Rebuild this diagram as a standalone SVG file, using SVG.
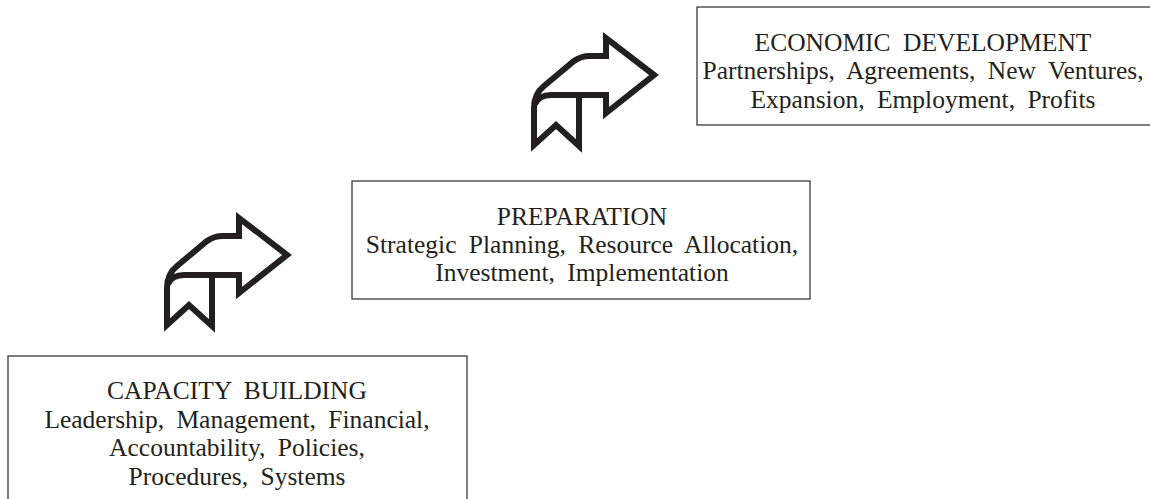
<svg xmlns="http://www.w3.org/2000/svg" xmlns:xlink="http://www.w3.org/1999/xlink" width="1150" height="499" viewBox="0 0 1150 499">
<style>
.box{fill:#fff;stroke:#3a3a3a;stroke-width:1.3}
.t{font-family:"Liberation Serif","Times New Roman",serif;font-size:25.5px;word-spacing:6px;fill:#231f20;text-anchor:middle}
.arr{fill:#fff;stroke:#231f20;stroke-width:6;stroke-linejoin:miter;stroke-miterlimit:10}
.fold{fill:none;stroke:#231f20;stroke-width:6}
</style>
<defs>
<g id="arrowShape">
<path class="arr" d="M 0 0 L -48 -37 V -19 H -64 Q -73 -19 -80 -14 L -110 11 Q -120 19 -120 33 V 70 L -98 50 L -75 71 V 20 H -48 V 38 Z"/>
<path class="fold" d="M -75 20 H -103 Q -115 20 -119 29"/>
</g>
</defs>
<rect width="1150" height="499" fill="#fff"/>
<g id="connectors">
<use xlink:href="#arrowShape" transform="translate(287,255)"/>
<use xlink:href="#arrowShape" transform="translate(654,75)"/>
</g>
<g id="node-capacity">
<rect class="box" x="8" y="356" width="459" height="160"/>
<text class="t" x="237" y="399">CAPACITY BUILDING</text>
<text class="t" x="237" y="427.5">Leadership, Management, Financial,</text>
<text class="t" x="237" y="456">Accountability, Policies,</text>
<text class="t" x="237" y="484.5">Procedures, Systems</text>
</g>
<g id="node-preparation">
<rect class="box" x="352" y="181" width="458" height="118"/>
<text class="t" x="582" y="224.5">PREPARATION</text>
<text class="t" x="582" y="252.5">Strategic Planning, Resource Allocation,</text>
<text class="t" x="582" y="280.5">Investment, Implementation</text>
</g>
<g id="node-economic">
<rect class="box" x="697" y="7" width="480" height="118"/>
<text class="t" x="923" y="50.5">ECONOMIC DEVELOPMENT</text>
<text class="t" x="923" y="79">Partnerships, Agreements, New Ventures,</text>
<text class="t" x="923" y="107.5">Expansion, Employment, Profits</text>
</g>
</svg>
